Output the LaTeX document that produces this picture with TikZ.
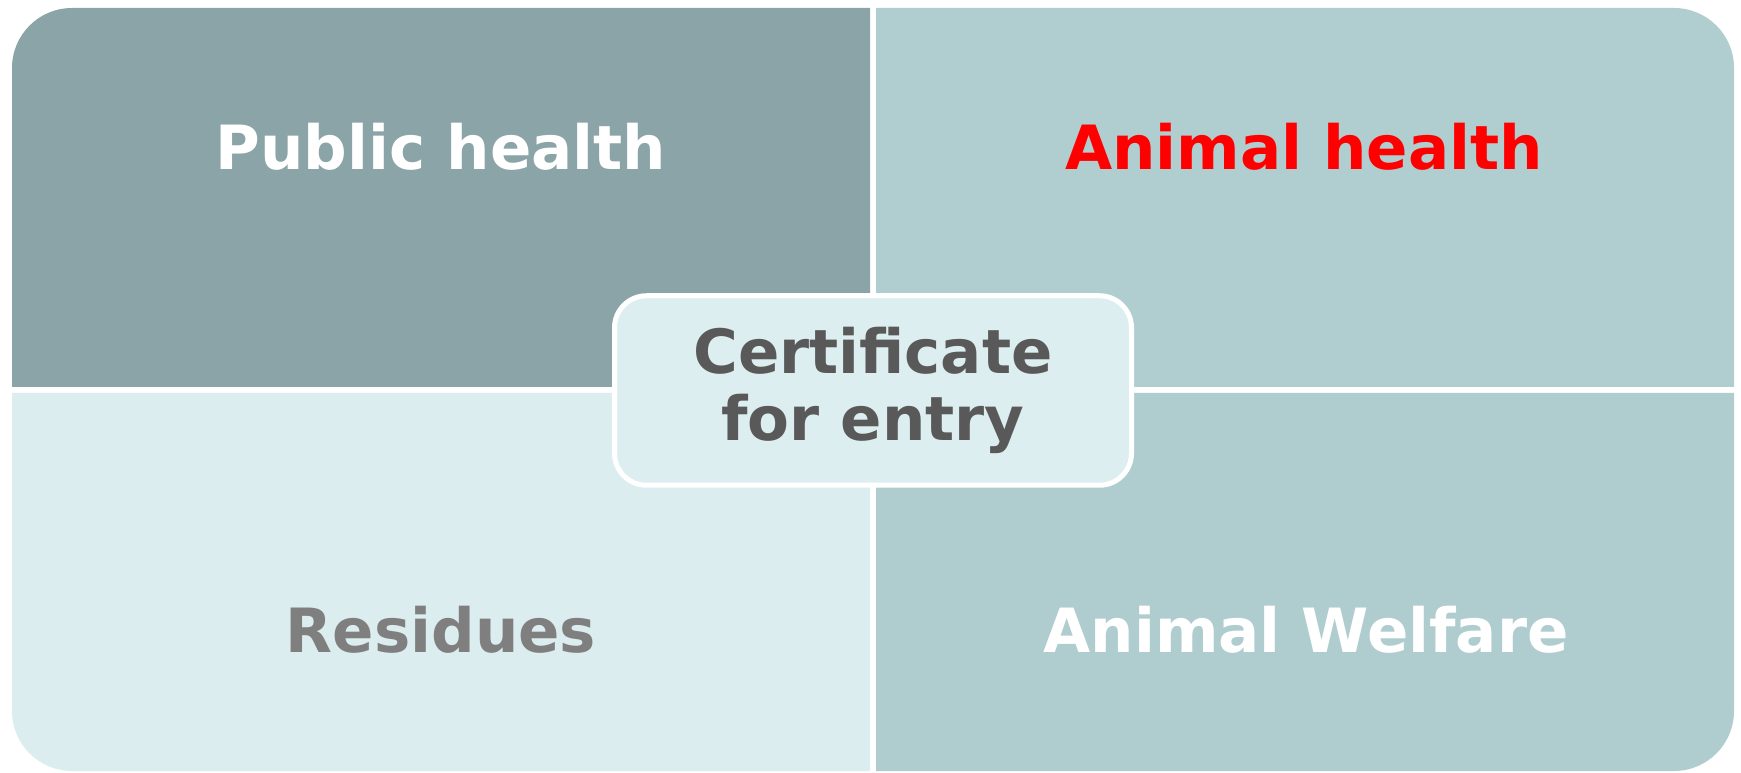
\documentclass[tikz,border=0pt]{standalone}
\usepackage{fontspec}
\setmainfont{DejaVu Sans}
\definecolor{qtl}{HTML}{8BA4A7}
\definecolor{qtr}{HTML}{B0CED0}
\definecolor{qbl}{HTML}{DCEDEF}
\definecolor{qbr}{HTML}{AFCDCF}
\definecolor{cfill}{HTML}{DDEEF0}
\definecolor{darktxt}{HTML}{595959}
\definecolor{greytxt}{HTML}{7F7F7F}
\tikzset{
  lbl/.style={font=\bfseries\fontsize{61}{67}\selectfont, anchor=base, inner sep=0pt},
  certbox/.style={draw=white, line width=5pt, fill=cfill, rounded corners=32pt,
    minimum width=517pt, minimum height=189.5pt, inner sep=0pt, align=center,
    text=darktxt, font=\bfseries\fontsize{61}{67}\selectfont}
}
\begin{document}
\begin{tikzpicture}[x=1pt,y=1pt]
\useasboundingbox (0,0) rectangle (1741,772);
\fill[white] (0,0) rectangle (1741,772);
% quadrants
\fill[qtl] (12,385) -- (12,704) arc[start angle=180,end angle=90,radius=60] -- (870,764) -- (870,385) -- cycle;
\fill[qtr] (876,385) -- (876,764) -- (1674,764) arc[start angle=90,end angle=0,radius=60] -- (1734,385) -- cycle;
\fill[qbl] (12,379) -- (870,379) -- (870,1) -- (72,1) arc[start angle=270,end angle=180,radius=60] -- cycle;
\fill[qbr] (876,379) -- (1734,379) -- (1734,61) arc[start angle=0,end angle=-90,radius=60] -- (876,1) -- cycle;
% labels
\node[lbl, text=white] (pub) at (441,602) {Public health};
\node[lbl, text=red] (ani) at (1304,602) {Animal health};
\node[lbl, text=greytxt] (res) at (441,120) {Residues};
\node[lbl, text=white] (wel) at (1306,120) {Animal Welfare};
% centre
\node[certbox] (cert) at (873,381.5) {Certificate\\for entry};
\end{tikzpicture}
\end{document}
